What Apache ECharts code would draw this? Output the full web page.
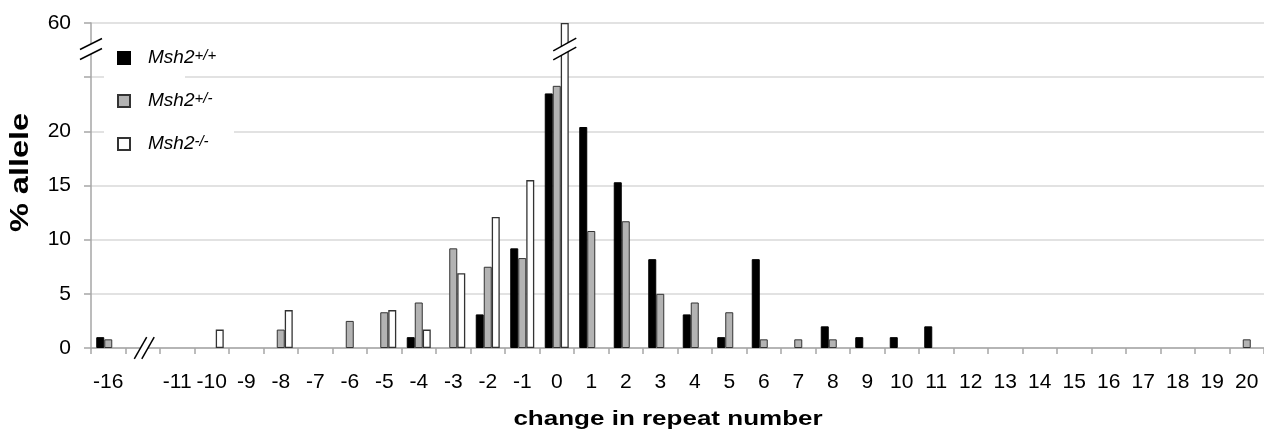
<!DOCTYPE html>
<html>
<head>
<meta charset="utf-8">
<script src="https://cdn.jsdelivr.net/npm/echarts@6/dist/echarts.min.js"></script>
<style>
html,body{margin:0;padding:0;background:#fff;}
#c{width:1264px;height:430px;}
</style>
</head>
<body>
<div id="c"></div>
<script>
// ---- data ----
const categories = ['-16','', '-11','-10','-9','-8','-7','-6','-5','-4','-3','-2','-1','0','1','2','3','4','5','6','7','8','9','10','11','12','13','14','15','16','17','18','19','20'];
const msh2WT  = [1.0,0, 0,0,0,0,0,0,0,1.0,0,3.1,9.2,23.5,20.4,15.3,8.2,3.1,1.0,8.2,0,2.0,1.0,1.0,2.0, 0,0,0,0,0,0,0,0,0];
const msh2Het = [0.8,0, 0,0,0,1.7,0,2.5,3.3,4.2,9.2,7.5,8.3,24.2,10.8,11.7,5.0,4.2,3.3,0.8,0.8,0.8,0,0,0, 0,0,0,0,0,0,0,0,0.8];
const msh2KO  = [0,0, 0,1.7,0,3.5,0,0,3.5,1.7,6.9,12.1,15.5,60, 0,0,0,0,0,0,0,0,0,0,0, 0,0,0,0,0,0,0,0,0];
const seriesNames = ['Msh2+/+','Msh2+/-','Msh2-/-'];
const xTitle = 'change in repeat number';
const yTitle = '% allele';

// ---- broken y axis: values above the break are shown shifted down by 30 ----
const BREAK_SHIFT = 30;
function toAxis(v){ return v > 30 ? v - BREAK_SHIFT : v; }
function yLabel(v){ if (v === 25) return ''; return v > 25 ? String(v + BREAK_SHIFT) : String(v); }

const FONT = 'Liberation Sans';
const BAR_W = 8;

function mk(name, data, fill, border, bw){
  return {
    name, type:'bar', data: data.map(v => v ? toAxis(v) : '-'),
    barWidth: BAR_W, barGap: '0%',
    itemStyle:{color: fill, borderColor: border, borderWidth: bw},
    emphasis:{disabled:true}
  };
}

const chart = echarts.init(document.getElementById('c'));
chart.setOption({
  animation:false,
  backgroundColor:'#fff',
  grid:{left:91, top:23, width:1176, height:325},
  legend:{
    orient:'vertical', left:117, top:48, padding:0,
    itemWidth:12, itemHeight:12, itemGap:22, icon:'rect', selectedMode:false,
    data: seriesNames,
    formatter: n => '{m|Msh2}{s|' + n.slice(4) + '}',
    textStyle:{
      rich:{
        m:{fontFamily:FONT, fontStyle:'italic', fontSize:19, lineHeight:20, verticalAlign:'top', padding:[0,0,2,13], color:'#000'},
        s:{fontFamily:FONT, fontStyle:'italic', fontSize:15, lineHeight:17, verticalAlign:'top', color:'#000'}
      }
    }
  },
  xAxis:{
    type:'category', data: categories, boundaryGap:true,
    axisLine:{lineStyle:{color:'#a6a6a6', width:1.5}},
    axisTick:{show:true, length:6, interval:0, alignWithLabel:false, lineStyle:{color:'#a6a6a6', width:1.5}},
    axisLabel:{interval:0, margin:24, fontFamily:FONT, fontSize:21, color:'#000'},
    splitLine:{show:false}
  },
  yAxis:{
    type:'value', min:0, max:30, interval:5,
    axisLine:{show:true, lineStyle:{color:'#a6a6a6', width:1.5}},
    axisTick:{show:true, length:7, lineStyle:{color:'#a6a6a6', width:1.5}},
    axisLabel:{margin:20, fontFamily:FONT, fontSize:21, color:'#000', formatter: yLabel},
    splitLine:{lineStyle:{color:'#d9d9d9', width:1.5}}
  },
  series:[
    mk(seriesNames[0], msh2WT, '#000000', '#000000', 1),
    mk(seriesNames[1], msh2Het, '#b3b3b3', '#333333', 1),
    mk(seriesNames[2], msh2KO, '#ffffff', '#333333', 1.3)
  ]
});

// ---- decorations: break marks, titles, legend background ----
const px = i => chart.convertToPixel({xAxisIndex:0}, i);
const py = v => chart.convertToPixel({yAxisIndex:0}, v);
const band = px(1) - px(0);
const gridLeft = px(0) - band/2;

function breakMark(cx, cy, hx, hy, ox, oy){
  const a1 = [cx - hx - ox, cy + hy - oy], a2 = [cx + hx - ox, cy - hy - oy];
  const b1 = [cx - hx + ox, cy + hy + oy], b2 = [cx + hx + ox, cy - hy + oy];
  return [
    {type:'polygon', z:100, silent:true, shape:{points:[a1,a2,b2,b1]}, style:{fill:'#fff'}},
    {type:'line', z:101, silent:true, shape:{x1:a1[0],y1:a1[1],x2:a2[0],y2:a2[1]}, style:{stroke:'#000', lineWidth:1.5}},
    {type:'line', z:101, silent:true, shape:{x1:b1[0],y1:b1[1],x2:b2[0],y2:b2[1]}, style:{stroke:'#000', lineWidth:1.5}}
  ];
}

const yBreakPix = py(27.6);
const zeroIdx = categories.indexOf('0');
const gapIdx = categories.indexOf('');
const elements = [].concat(
  // legend white backgrounds
  [{type:'rect', z:1, silent:true, shape:{x:gridLeft+13, y:38, width:81, height:128}, style:{fill:'#fff'}},
   {type:'rect', z:1, silent:true, shape:{x:gridLeft+94, y:88, width:49, height:78}, style:{fill:'#fff'}}],
  breakMark(gridLeft, yBreakPix, 11, 5.5, 0, 5),
  breakMark(px(zeroIdx) + BAR_W, yBreakPix, 11.5, 6.3, 0, 4.5),
  breakMark(px(gapIdx) + 1.5, py(0), 6.2, 10.85, 3.75, 0),
  [
    {type:'text', z:50, silent:true, x:668, y:419, scaleX:1.3,
     style:{text:xTitle, fontFamily:FONT, fontWeight:'bold', fontSize:20, fill:'#000', align:'center', verticalAlign:'middle'}},
    {type:'text', z:50, silent:true, x:21, y:172.5, rotation:Math.PI/2, scaleX:1.3,
     style:{text:yTitle, fontFamily:FONT, fontWeight:'bold', fontSize:25, fill:'#000', align:'center', verticalAlign:'middle'}}
  ]
);
chart.setOption({graphic:{elements}});
</script>
</body>
</html>
